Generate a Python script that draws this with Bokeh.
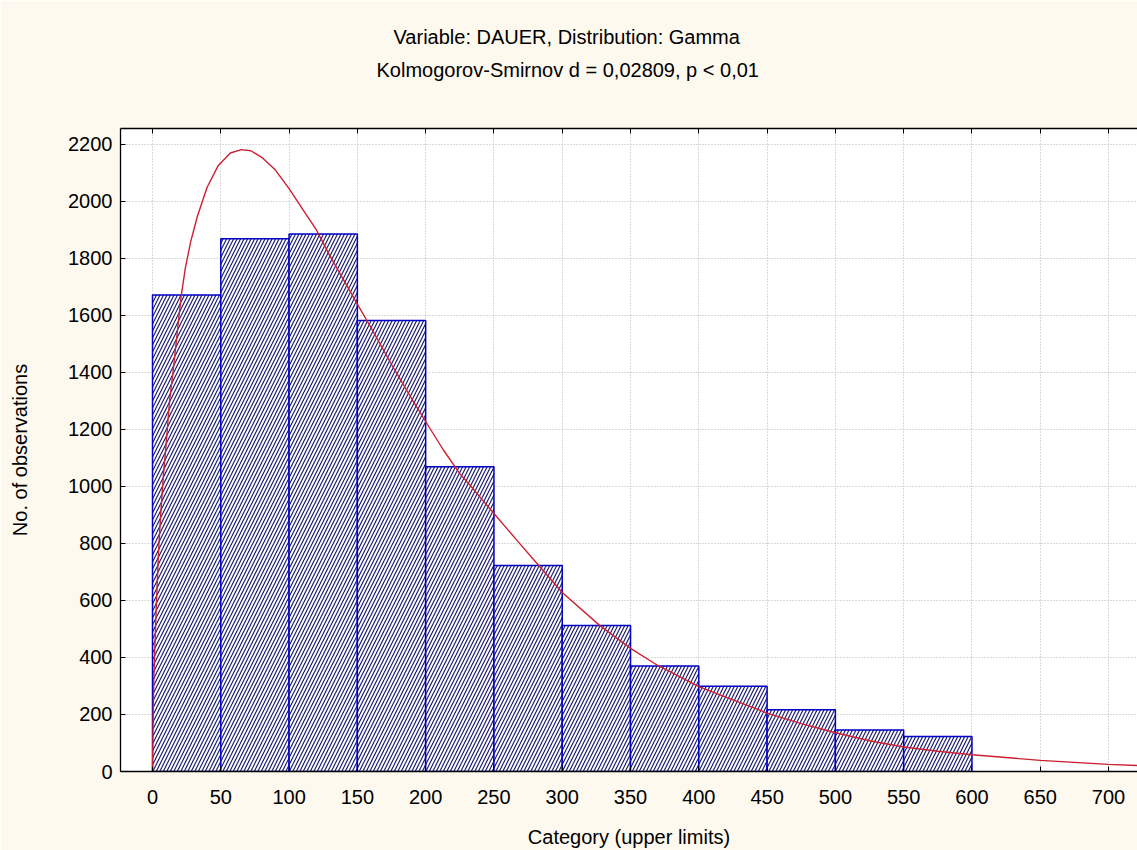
from bokeh.plotting import figure
from bokeh.models import Range1d, FixedTicker, LinearAxis, Title, ColumnDataSource
from bokeh.embed import file_html
from bokeh.resources import INLINE

# ---- data ----
bin_left = [0, 50, 100, 150, 200, 250, 300, 350, 400, 450, 500, 550]
bin_right = [50, 100, 150, 200, 250, 300, 350, 400, 450, 500, 550, 600]
counts = [1672, 1869, 1886, 1582, 1069, 723, 512, 370, 299, 217, 146, 123]

curve_x = [0, 0.5, 1, 2, 3, 4.5, 6, 8, 10, 12.5, 15, 18, 21, 24, 28, 33, 40, 48,
           57, 65, 72, 80, 90, 100, 110, 120, 130, 140, 150, 160, 175, 190, 200,
           213, 225, 235, 250, 267, 282, 300, 328, 350, 370, 400, 423, 450, 475,
           500, 525, 550, 575, 600, 650, 700, 722]
curve_y = [0, 203, 331, 475, 608, 780, 903, 1040, 1150, 1300, 1400, 1535, 1668,
           1765, 1860, 1950, 2050, 2125, 2170, 2182, 2178, 2155, 2110, 2045, 1972,
           1900, 1808, 1724, 1640, 1557, 1428, 1306, 1228, 1128, 1045, 990, 905,
           810, 727, 628, 510, 432, 372, 298, 255, 205, 168, 136, 108, 86, 71, 59,
           39, 25, 21]

x_ticks = [0, 50, 100, 150, 200, 250, 300, 350, 400, 450, 500, 550, 600, 650, 700]
y_ticks = [0, 200, 400, 600, 800, 1000, 1200, 1400, 1600, 1800, 2000, 2200]

title_1 = "Variable: DAUER, Distribution: Gamma"
title_2 = "Kolmogorov-Smirnov d = 0,02809, p < 0,01"
x_label = "Category (upper limits)"
y_label = "No. of observations"

FONT = "Liberation Sans"
FS = "20px"
BG = "#FDF9EF"

p = figure(width=1137, height=850,
           x_range=Range1d(-23.43, 721.2), y_range=Range1d(0, 2256),
           output_backend="svg", toolbar_location=None,
           min_border_left=120, min_border_right=0,
           min_border_top=128, min_border_bottom=79,
           background_fill_color="white", border_fill_color=BG)
p.outline_line_color = None

# grid
for g, t in ((p.xgrid, x_ticks), (p.ygrid, y_ticks)):
    g.ticker = FixedTicker(ticks=t)
    g.grid_line_color = "#b4b4b4"
    g.grid_line_dash = "1 2"
    g.grid_line_width = 1

# axes
p.xaxis.ticker = FixedTicker(ticks=x_ticks)
p.yaxis.ticker = FixedTicker(ticks=y_ticks)
for ax in (p.xaxis[0], p.yaxis[0]):
    ax.major_tick_in = 5
    ax.major_tick_out = 0
    ax.minor_tick_line_color = None
    ax.axis_line_color = "black"
    ax.axis_line_width = 1.3
    ax.major_tick_line_color = "black"
    ax.major_label_text_font = FONT
    ax.major_label_text_font_size = FS
    ax.major_label_text_color = "black"
    ax.axis_label_text_font = FONT
    ax.axis_label_text_font_size = FS
    ax.axis_label_text_font_style = "normal"
    ax.axis_label_text_color = "black"
p.xaxis.major_label_standoff = 18
p.yaxis.major_label_standoff = 8
p.xaxis.axis_label = x_label
p.xaxis.axis_label_standoff = 19
p.yaxis.axis_label = y_label
p.yaxis.axis_label_standoff = 34

top = LinearAxis(ticker=FixedTicker(ticks=x_ticks), major_tick_in=5, major_tick_out=0,
                 minor_tick_line_color=None, axis_line_color="black", axis_line_width=1.3,
                 major_label_text_color=None, major_label_text_font_size="1px",
                 major_label_standoff=0)
p.add_layout(top, "above")

# spacer, then titles (stacked outward from the frame)
p.add_layout(Title(text=" ", standoff=24, text_font=FONT, text_font_size=FS), "above")
p.add_layout(Title(text=title_2, align="left", offset=256, standoff=0,
                   text_font=FONT, text_font_size=FS, text_font_style="normal",
                   text_color="black"), "above")
p.add_layout(Title(text=title_1, align="left", offset=273, standoff=18,
                   text_font=FONT, text_font_size=FS, text_font_style="normal",
                   text_color="black"), "above")

# histogram bars
src = ColumnDataSource(dict(left=bin_left, right=bin_right, top=counts))
p.quad(left="left", right="right", top="top", bottom=0, source=src,
       fill_color="white", hatch_pattern="/", hatch_color="#1e1e70",
       hatch_scale=7, hatch_weight=1.2,
       line_color="#0000C8", line_width=1.5)

# fitted curve
p.line(curve_x, curve_y, line_color="#CC2030", line_width=1.4)

open("out.html", "w").write(file_html(p, INLINE))
